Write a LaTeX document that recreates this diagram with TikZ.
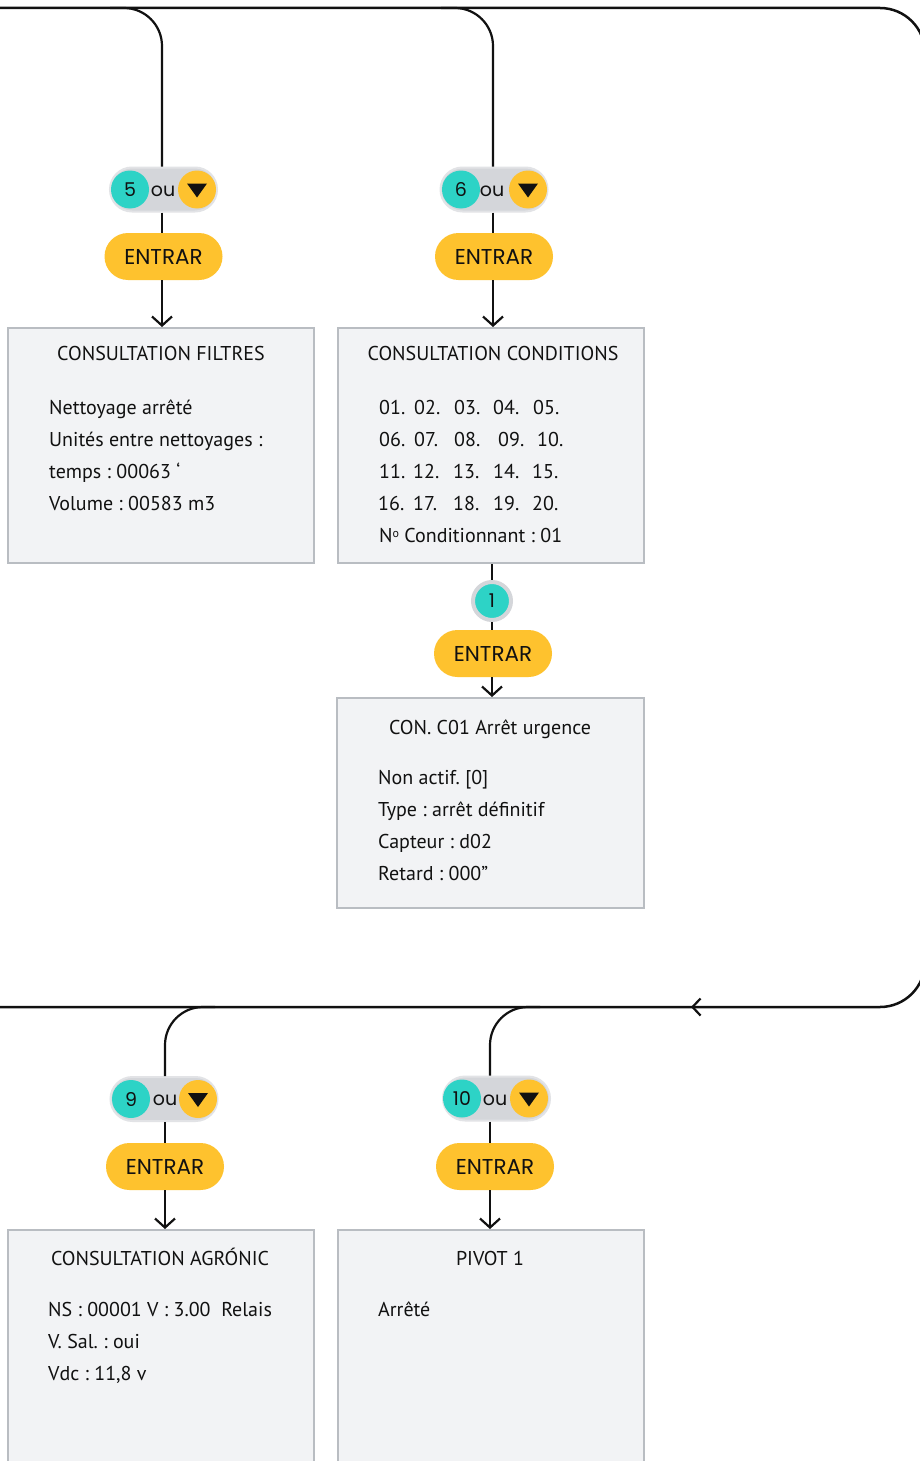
\documentclass[tikz,border=0pt]{standalone}
\usepackage{fontspec}
\setmainfont{PT Sans}
\newfontfamily\popfont{Poppins}
\usetikzlibrary{arrows.meta}
\definecolor{tealc}{HTML}{2DD3C6}
\definecolor{yel}{HTML}{FEC22E}
\definecolor{pillg}{HTML}{D4D6DA}
\definecolor{pillb}{HTML}{E2E3E6}
\definecolor{boxf}{HTML}{F2F3F5}
\definecolor{boxd}{HTML}{B9BDC2}
\definecolor{ink}{HTML}{111111}
\frenchspacing
\begin{document}
\begin{tikzpicture}[x=1pt,y=-1pt,
 conn/.style={line width=2.2pt, draw=ink},
 arr/.style={conn, -{Straight Barb[length=9pt,width=20pt]}},
 pill/.style={rectangle, rounded corners=22pt, minimum width=107pt, minimum height=44pt, fill=pillg, draw=pillb, line width=2pt, inner sep=0pt},
 num/.style={circle, fill=tealc, minimum size=38pt, inner sep=0pt, text=ink, font=\popfont\fontsize{19}{19}\selectfont},
 down/.style={circle, fill=yel, minimum size=38pt, inner sep=0pt, path picture={\fill[ink] ([xshift=-10pt,yshift=6pt]path picture bounding box.center) -- ++(20pt,0pt) -- ++(-10pt,-14pt) -- cycle;}},
 ou/.style={font=\popfont\fontsize{19}{19}\selectfont, inner sep=0pt, text=ink},
 entrar/.style={rectangle, rounded corners=23.5pt, fill=yel, minimum width=118pt, minimum height=47pt, inner sep=0pt, text=ink, font=\popfont\fontsize{21.5}{21.5}\selectfont},
 box/.style={rectangle, fill=boxf, draw=boxd, line width=2pt, inner sep=0pt},
 title/.style={font=\fontsize{20}{22}\selectfont, inner sep=0pt, text height=14pt, text depth=0pt, text=ink},
 txt/.style={title, anchor=west},
]
\useasboundingbox (0,0) rectangle (920,1461);
\fill[white] (0,0) rectangle (920,1461);
\clip (0,0) rectangle (920,1461);

% ---------- boxes ----------
\node[box, minimum width=306pt, minimum height=235pt] (b1) at (161,445.5) {};
\node[box, minimum width=306pt, minimum height=235pt] (b2) at (491,445.5) {};
\node[box, minimum width=307pt, minimum height=210pt] (b3) at (490.5,803) {};
\node[box, minimum width=306pt, minimum height=260pt] (b4) at (161,1360) {};
\node[box, minimum width=306pt, minimum height=260pt] (b5) at (491,1360) {};

% ---------- pills ----------
\node[pill] (p5) at (163.5,189.5) {};
\node[num] (n5) at (130,189.5) {5};
\node[ou] (o5) at (163,191) {ou};
\node[down] (d5) at (197,189.5) {};

\node[pill] (p6) at (494,189.5) {};
\node[num] (n6) at (461,189.5) {6};
\node[ou] (o6) at (492,191) {ou};
\node[down] (d6) at (528,189.5) {};

\node[pill] (p9) at (164,1099) {};
\node[num] (n9) at (131,1099) {9};
\node[ou] (o9) at (165,1100.5) {ou};
\node[down] (d9) at (198,1099) {};

\node[pill] (p10) at (496.5,1098.5) {};
\node[num] (n10) at (462,1098.5) {10};
\node[ou] (o10) at (495,1100) {ou};
\node[down] (d10) at (529,1098.5) {};

\node[num, draw=pillg, line width=4pt] (c1) at (492,601) {1};

% ---------- ENTRAR ----------
\node[entrar] (e5) at (163.5,256.5) {ENTRAR};
\node[entrar] (e6) at (494,256.5) {ENTRAR};
\node[entrar] (e1) at (493,653.5) {ENTRAR};
\node[entrar] (e9) at (165,1166.5) {ENTRAR};
\node[entrar] (e10) at (495,1166.5) {ENTRAR};

% ---------- main loop ----------
\coordinate (L0) at (-5,8);
\coordinate (R0) at (925,8);
\coordinate (R1) at (925,1007);
\coordinate (L1) at (-5,1007);
\draw[conn, line width=2.5pt, rounded corners=45pt] (L0) -- (R0) -- (R1) -- (L1);
\coordinate (ar0) at (760,1007);
\coordinate (ar) at (691,1007);
\draw[arr, -{Straight Barb[length=8pt,width=17pt]}] (ar0) -- (ar);

% ---------- branches ----------
\coordinate (j5a) at (110,8);
\coordinate (j5) at (162,8);
\draw[conn, rounded corners=38pt] (j5a) -- (j5) -- (p5.north -| j5);
\draw[conn] (p5.south -| j5) -- (e5.north -| j5);
\draw[arr] (e5.south -| j5) -- (b1.north -| j5);

\coordinate (j6a) at (441,8);
\coordinate (j6) at (493,8);
\draw[conn, rounded corners=38pt] (j6a) -- (j6) -- (p6.north -| j6);
\draw[conn] (p6.south -| j6) -- (e6.north -| j6);
\draw[arr] (e6.south -| j6) -- (b2.north -| j6);

\coordinate (j1) at (492,563);
\draw[conn] (b2.south -| j1) -- (c1);
\draw[conn] (c1) -- (e1.north -| j1);
\draw[arr] (e1.south -| j1) -- (b3.north -| j1);

\coordinate (j9a) at (215,1007);
\coordinate (j9) at (165,1007);
\draw[conn, rounded corners=38pt] (j9a) -- (j9) -- (p9.north -| j9);
\draw[conn] (p9.south -| j9) -- (e9.north -| j9);
\draw[arr] (e9.south -| j9) -- (b4.north -| j9);

\coordinate (j10a) at (540,1007);
\coordinate (j10) at (490,1007);
\draw[conn, rounded corners=38pt] (j10a) -- (j10) -- (p10.north -| j10);
\draw[conn] (p10.south -| j10) -- (e10.north -| j10);
\draw[arr] (e10.south -| j10) -- (b5.north -| j10);

% ---------- texts ----------
\node[title] (t1) at (161,353) {CONSULTATION FILTRES};
\foreach \t [count=\i] in {Nettoyage arrêté, Unités entre nettoyages :, temps : 00063 ‘, Volume : 00583 m3}
  \node[txt] (b1l\i) at (49,375+32*\i) {\t};

\node[title] (t2) at (493,353) {CONSULTATION CONDITIONS};
\foreach \x/\t [count=\i] in {379/01.,414/02.,454/03.,493/04.,533/05.}
  \node[txt] (ga\i) at (\x,407) {\t};
\foreach \x/\t [count=\i] in {379/06.,414/07.,454/08.,498/09.,537/10.}
  \node[txt] (gb\i) at (\x,439) {\t};
\foreach \x/\t [count=\i] in {379/11.,413/12.,453/13.,493/14.,532/15.}
  \node[txt] (gc\i) at (\x,471) {\t};
\foreach \x/\t [count=\i] in {378/16.,413/17.,453/18.,493/19.,532/20.}
  \node[txt] (gd\i) at (\x,503) {\t};
\node[txt] (nc) at (379,535) {N\raisebox{5pt}{\fontsize{12}{12}\selectfont o} Conditionnant : 01};

\node[title] (t3) at (490,727) {CON. C01 Arrêt urgence};
\foreach \t [count=\i] in {Non actif. [0], Type : arrêt définitif, Capteur : d02, Retard : 000”}
  \node[txt] (b3l\i) at (378,745+32*\i) {\t};

\node[title] (t4) at (160,1258) {CONSULTATION AGRÓNIC};
\foreach \t [count=\i] in {NS : 00001 V : 3.00\ \ Relais, V. Sal. : oui, Vdc : 11{,}8 v}
  \node[txt] (b4l\i) at (48,1277+32*\i) {\t};

\node[title] (t5) at (490,1258) {PIVOT 1};
\node[txt] (b5l1) at (378,1309) {Arrêté};
\end{tikzpicture}
\end{document}
